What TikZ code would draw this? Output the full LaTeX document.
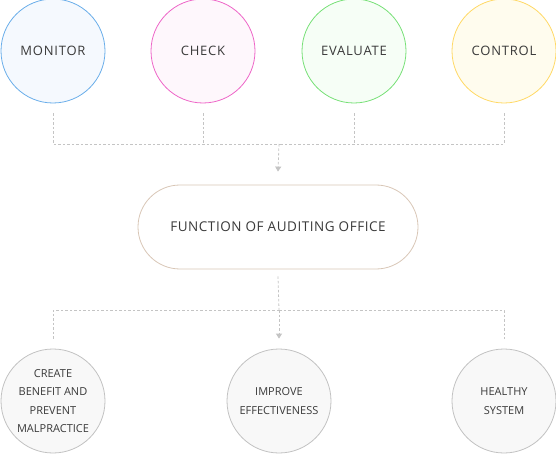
\documentclass[tikz,border=0pt]{standalone}
\usepackage{fontspec}
\setmainfont{Open Sans}
\usetikzlibrary{arrows.meta}
\definecolor{txt}{HTML}{3A3A3A}
\definecolor{dash}{HTML}{C4C4C4}
\definecolor{monline}{HTML}{6AAEEA}
\definecolor{monfill}{HTML}{F5F9FE}
\definecolor{chkline}{HTML}{EE66C8}
\definecolor{chkfill}{HTML}{FEF7FC}
\definecolor{evaline}{HTML}{77E077}
\definecolor{evafill}{HTML}{F6FEF6}
\definecolor{ctlline}{HTML}{FFD966}
\definecolor{ctlfill}{HTML}{FFFCEE}
\definecolor{botline}{HTML}{C2C2C2}
\definecolor{botfill}{HTML}{F8F8F8}
\definecolor{pillline}{HTML}{D8C6B6}

\begin{document}
\begin{tikzpicture}[x=1pt,y=-1pt,
  ball/.style={circle,minimum size=104pt,inner sep=0pt,line width=0.8pt,text=txt,align=center,
    font=\fontsize{13}{15}\selectfont\addfontfeatures{LetterSpace=6}},
  smallball/.style={ball,draw=botline,fill=botfill,
    font=\fontsize{11}{18.3}\selectfont},
  link/.style={draw=dash,line width=0.8pt,dash pattern=on 2.5pt off 2pt},
  tip/.style={-{Triangle[length=5pt,width=6pt]},arrows={[fill=dash]}}]
\useasboundingbox (0,0) rectangle (556,454);
\node[ball,draw=monline,fill=monfill] (mon) at (53,51) {MONITOR};
\node[ball,draw=chkline,fill=chkfill] (chk) at (203,51) {CHECK};
\node[ball,draw=evaline,fill=evafill] (eva) at (354,51) {EVALUATE};
\node[ball,draw=ctlline,fill=ctlfill] (ctl) at (504,51) {CONTROL};
\node[draw=pillline,line width=0.8pt,rounded corners=42pt,minimum width=280pt,minimum height=84pt,
  text=txt,font=\fontsize{13.5}{15}\selectfont\addfontfeatures{LetterSpace=4}] (fun) at (278,227)
  {FUNCTION OF AUDITING OFFICE};
\node[smallball] (cre) at (53,401) {CREATE\\BENEFIT AND\\PREVENT\\MALPRACTICE};
\node[smallball] (imp) at (279,401) {IMPROVE\\EFFECTIVENESS};
\node[smallball] (hea) at (504,401) {HEALTHY\\SYSTEM};
\coordinate (jtop) at (279,144);
\coordinate (jbot) at (279,310);
\draw[link] ([yshift=-10pt]mon.south) |- (jtop);
\draw[link] ([yshift=-10pt]ctl.south) |- (jtop);
\draw[link] ([yshift=-10pt]chk.south) -- (chk.south |- jtop);
\draw[link] ([yshift=-10pt]eva.south) -- (eva.south |- jtop);
\draw[link,tip] (jtop) -- ([yshift=13pt]fun.north);
\draw[link] ([yshift=-7pt]fun.south) -- (jbot);
\draw[link,tip] (jbot) -- ([yshift=10pt]imp.north);
\draw[link] (jbot) -| ([yshift=10pt]cre.north);
\draw[link] (jbot) -| ([yshift=10pt]hea.north);
\end{tikzpicture}
\end{document}
